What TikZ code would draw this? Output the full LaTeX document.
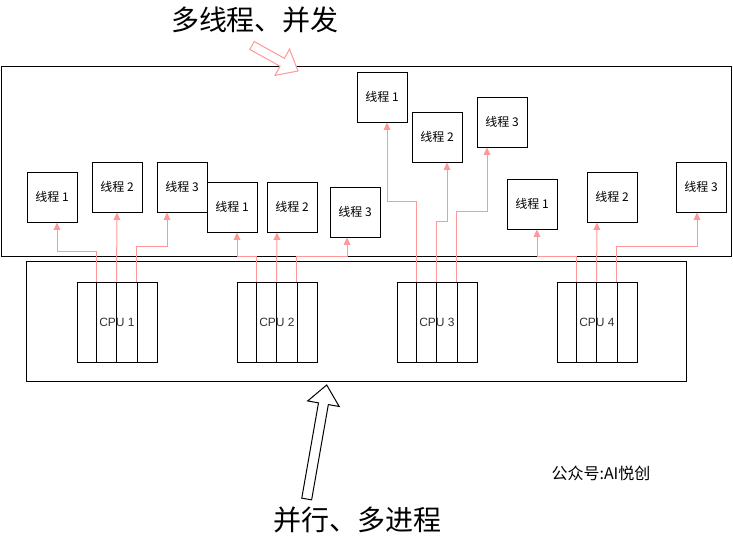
\documentclass[tikz,border=0pt]{standalone}
\usepackage{fontspec}
\usepackage{xcolor}
\usetikzlibrary{calc,arrows.meta}
\setmainfont{Liberation Sans}
\newfontfamily\cjk{Noto Sans CJK SC}
\definecolor{linkred}{RGB}{255,153,153}
\definecolor{labelgray}{RGB}{51,51,51}

% hollow block arrow: [style]{tail}{tip}{half shaft}{half head}{head length}
\newcommand{\hollowarrow}[6][]{%
  \coordinate (ha-t) at (#2);
  \coordinate (ha-h) at (#3);
  \coordinate (ha-b) at ($(ha-h)!#6!(ha-t)$);
  \draw[#1] ($(ha-t)!#4!90:(ha-h)$) -- ($(ha-b)!#4!90:(ha-h)$)
    -- ($(ha-b)!#5!90:(ha-h)$) -- (ha-h) -- ($(ha-b)!#5!-90:(ha-h)$)
    -- ($(ha-b)!#4!-90:(ha-h)$) -- ($(ha-t)!#4!-90:(ha-h)$) -- cycle;
}

\begin{document}
\begin{tikzpicture}[x=0.75pt, y=-0.75pt, line width=0.75pt,
    thread/.style={draw, fill=white, minimum width=37.5pt, minimum height=37.5pt,
      inner sep=0pt, font=\cjk\fontsize{9}{9}\selectfont},
    cpu/.style={draw, minimum width=60pt, minimum height=60pt, inner sep=0pt,
      text=labelgray, font=\fontsize{9}{9}\selectfont},
    link/.style={draw=linkred, -{Triangle[length=5.5pt, width=5pt, fill=linkred]}},
    bigtext/.style={font=\cjk\fontsize{21}{21}\selectfont}]
    \useasboundingbox (0,0) rectangle (733,539);

    % Outer boxes
    \draw (1,66) rectangle (731,256);
    \draw (26,261) rectangle (686,381);

    % CPU boxes
    \foreach \i/\x in {1/117, 2/277, 3/437, 4/597} {
        \node[cpu] (C\i) at (\x,322) {CPU \i};
        \foreach \d in {20,40,61}
            \draw ($(C\i.north west)+(\d,0)$) -- ($(C\i.south west)+(\d,0)$);
    }

    % Thread boxes
    \node[thread] (T11) at (52,197) {线程 1};
    \node[thread] (T12) at (117,187) {线程 2};
    \node[thread] (T13) at (182,187) {线程 3};
    \node[thread] (T21) at (232,207) {线程 1};
    \node[thread] (T22) at (292,207) {线程 2};
    \node[thread] (T23) at (355,212) {线程 3};
    \node[thread] (T31) at (382,97) {线程 1};
    \node[thread] (T32) at (437,137) {线程 2};
    \node[thread] (T33) at (502,122) {线程 3};
    \node[thread] (T41) at (532,204) {线程 1};
    \node[thread] (T42) at (612,197) {线程 2};
    \node[thread] (T43) at (701,187) {线程 3};

    % CPU 1 links
    \draw[link] ($(C1.north west)+(20,0)$) -- ++(0,-30.3) -| ($(T11.south)+(5,0)$);
    \draw[link] ($(C1.north west)+(40,0)$) -- (T12.south);
    \draw[link] ($(C1.north west)+(60,0)$) -- ++(0,-35.3) -| ($(T13.south)+(-15,0)$);
    % CPU 2 links
    \draw[link] ($(C2.north west)+(20,0)$) -- ++(0,-25.3) -| ($(T21.south)+(5,0)$);
    \draw[link] ($(C2.north west)+(40,0)$) -- ($(T22.south)+(-15,0)$);
    \draw[link] ($(C2.north west)+(60,0)$) -- ++(0,-25.3) -| ($(T23.south)+(-8,0)$);
    % CPU 3 links
    \draw[link] ($(C3.north west)+(20,0)$) -- ++(0,-80.3) -| ($(T31.south)+(5,0)$);
    \draw[link] ($(C3.north west)+(40,0)$) -- ++(0,-59.7) -| ($(T32.south)+(10,0)$);
    \draw[link] ($(C3.north west)+(60,0)$) -- ++(0,-70.3) -| ($(T33.south)+(-15,0)$);
    % CPU 4 links
    \draw[link] ($(C4.north west)+(20,0)$) -- ++(0,-25.3) -| ($(T41.south)+(5,0)$);
    \draw[link] ($(C4.north west)+(40,0)$) -- ($(T42.south)+(-15,0)$);
    \draw[link] ($(C4.north west)+(60,0)$) -- ++(0,-35.3) -| ($(T43.south)+(-4,0)$);

    % Labels and block arrows
    \node[bigtext] (concur) at (255,20) {多线程、并发};
    \node[bigtext] (parallel) at (357,520) {并行、多进程};
    \coordinate (topTail) at (252,45.5);
    \coordinate (topTip) at (298,71);
    \hollowarrow[draw=linkred, fill=white]{topTail}{topTip}{3.4pt}{11.25pt}{13.5pt}
    \coordinate (botTail) at (306.7,499);
    \coordinate (botTip) at (326.7,385);
    \hollowarrow[draw=black, fill=white]{botTail}{botTip}{3.75pt}{12pt}{14.25pt}

    \node[font=\cjk\fontsize{12}{12}\selectfont] (mark) at (601,473) {公众号:AI悦创};
\end{tikzpicture}
\end{document}
